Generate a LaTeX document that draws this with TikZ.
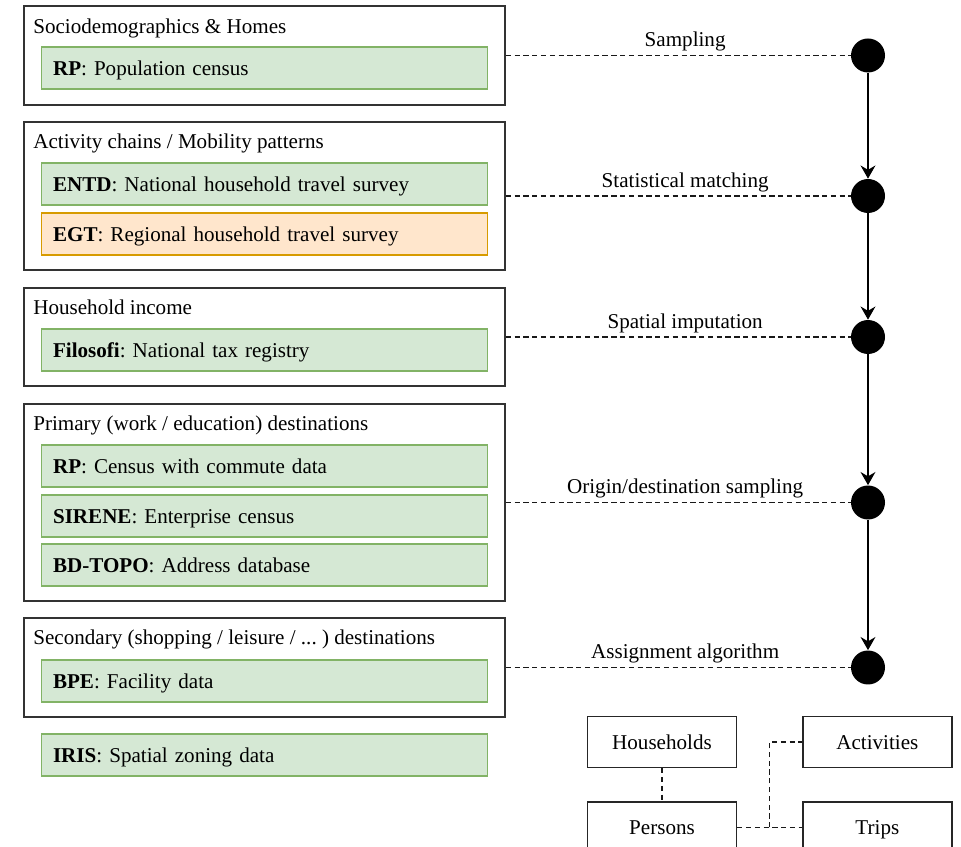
\documentclass[tikz,border=0pt]{standalone}
\usepackage{fontspec}
\setmainfont{Liberation Serif}
\usetikzlibrary{positioning, arrows.meta}
\definecolor{srcfill}{HTML}{D5E8D4}
\definecolor{srcline}{HTML}{82B366}
\definecolor{regfill}{HTML}{FFE6CC}
\definecolor{regline}{HTML}{D79B00}
\frenchspacing

\tikzset{
    group/.style={draw=black!80, line width=1pt, minimum width=9.62cm, inner sep=0pt},
    grouptitle/.style={anchor=base west, inner sep=0pt},
    source/.style={draw=srcline, fill=srcfill, line width=0.6pt,
        minimum width=8.94cm, minimum height=0.84cm,
        text height=9pt, text depth=0pt,
        inner xsep=0.24cm, text width=8.46cm, align=left},
    regional/.style={source, draw=regline, fill=regfill},
    stage/.style={circle, fill=black, minimum size=0.68cm, inner sep=0pt},
    feed/.style={draw=black!90, line width=0.8pt, dash pattern=on 3pt off 2pt},
    steplabel/.style={above, inner sep=2pt, pos=0.52},
    entity/.style={draw=black!85, line width=0.8pt,
        text height=8pt, text depth=0pt,
        minimum width=2.98cm, minimum height=1.02cm}
}

\begin{document}
\begin{tikzpicture}[x=0.02cm, y=-0.02cm, > = {Stealth[length=7.5pt, width=8.5pt, inset=2.5pt]},
    font=\fontsize{12}{14}\selectfont]
    \useasboundingbox (0,0) rectangle (961,847);

    % data groups
    \node [group, minimum height=1.98cm] (grp1) at (264.5,55.5) {};
    \node [group, minimum height=2.96cm] (grp2) at (264.5,196) {};
    \node [group, minimum height=1.96cm] (grp3) at (264.5,337) {};
    \node [group, minimum height=3.94cm] (grp4) at (264.5,502.5) {};
    \node [group, minimum height=1.98cm] (grp5) at (264.5,667.5) {};

    \node [grouptitle] (tit1) at (33,34) {Sociodemographics \& Homes};
    \node [grouptitle] (tit2) at (33,149) {Activity chains / Mobility patterns};
    \node [grouptitle] (tit3) at (33,315) {Household income};
    \node [grouptitle] (tit4) at (33,431) {Primary (work / education) destinations};
    \node [grouptitle] (tit5) at (33,645) {Secondary (shopping / leisure / ... ) destinations};

    % sources
    \node [source] (rp) at (264.5,68) {\textbf{RP}: Population census};
    \node [source] (entd) at (264.5,184) {\textbf{ENTD}: National household travel survey};
    \node [regional] (egt) at (264.5,234) {\textbf{EGT}: Regional household travel survey};
    \node [source] (filosofi) at (264.5,350) {\textbf{Filosofi}: National tax registry};
    \node [source] (rpcommute) at (264.5,466) {\textbf{RP}: Census with commute data};
    \node [source] (sirene) at (264.5,516) {\textbf{SIRENE}: Enterprise census};
    \node [source] (bdtopo) at (264.5,565) {\textbf{BD-TOPO}: Address database};
    \node [source] (bpe) at (264.5,681) {\textbf{BPE}: Facility data};
    \node [source] (iris) at (264.5,755) {\textbf{IRIS}: Spatial zoning data};

    % pipeline stages
    \node [stage] (st1) at (868,55.5) {};
    \node [stage] (st2) at (868,196) {};
    \node [stage] (st3) at (868,337) {};
    \node [stage] (st4) at (868,502.5) {};
    \node [stage] (st5) at (868,667.5) {};

    \draw [feed] (grp1) -- (st1) node [steplabel] {Sampling};
    \draw [feed] (grp2) -- (st2) node [steplabel] {Statistical matching};
    \draw [feed] (grp3) -- (st3) node [steplabel] {Spatial imputation};
    \draw [feed] (grp4) -- (st4) node [steplabel] {Origin/destination sampling};
    \draw [feed] (grp5) -- (st5) node [steplabel] {Assignment algorithm};

    \draw [->, line width=0.8pt] (st1) -- (st2);
    \draw [->, line width=0.8pt] (st2) -- (st3);
    \draw [->, line width=0.8pt] (st3) -- (st4);
    \draw [->, line width=0.8pt] (st4) -- (st5);

    % output model
    \node [entity] (households) at (662,742) {Households};
    \node [entity, right=1.3cm of households] (activities) {Activities};
    \node [entity, below=0.66cm of households] (persons) {Persons};
    \node [entity, below=0.66cm of activities] (trips) {Trips};

    \draw [feed] (households) -- (persons);
    \draw [feed] (persons) -- coordinate (split) (trips);
    \draw [feed] (split) |- (activities);
\end{tikzpicture}
\end{document}
